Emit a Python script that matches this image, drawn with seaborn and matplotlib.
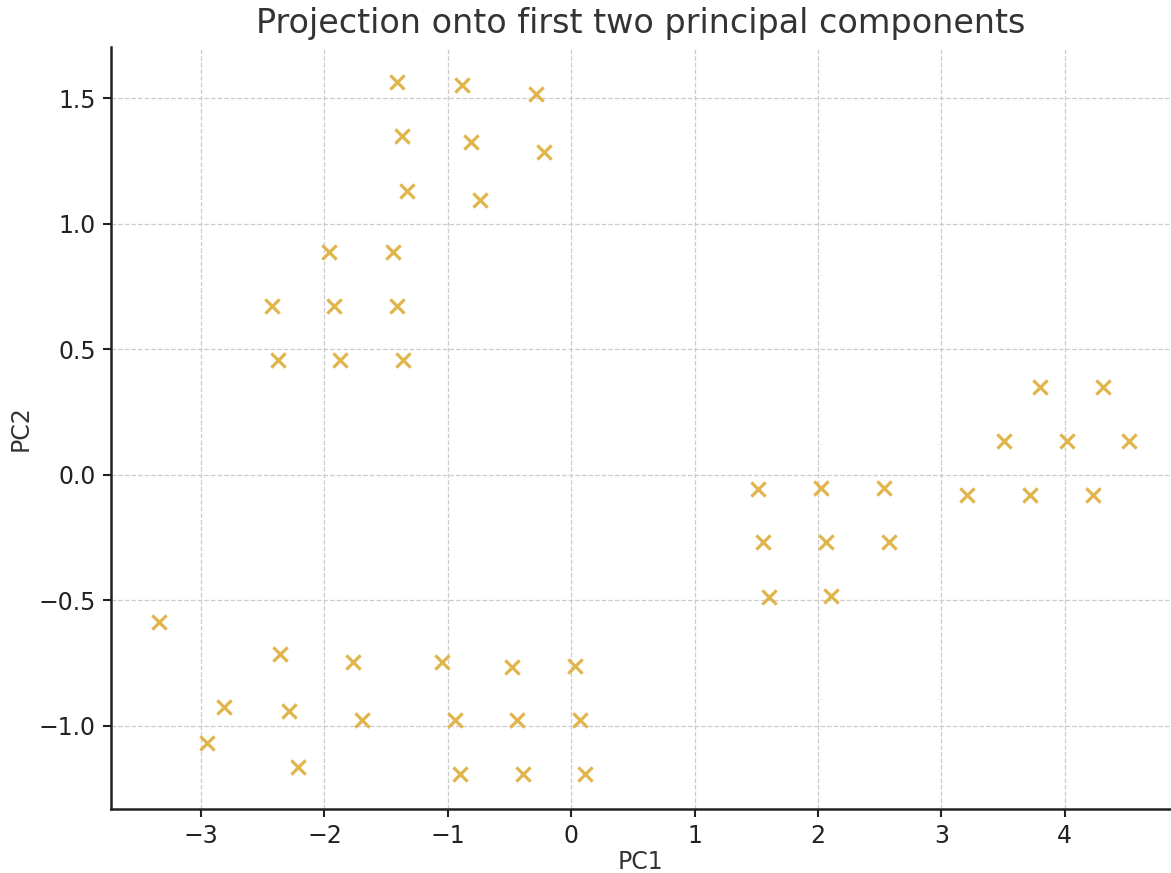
import matplotlib
matplotlib.use("Agg")
import matplotlib.pyplot as plt
import pandas as pd
import seaborn as sns

# values
pc1 = [
    -1.415, -0.886, -0.288, -1.374, -0.810, -0.221, -1.331, -0.740,
    -1.961, -1.447, -2.428, -1.921, -1.410, -2.379, -1.874, -1.366,
    -3.339, -2.358, -1.767, -1.050, -0.481, 0.028,
    -2.814, -2.290, -1.696, -0.945, -0.438, 0.071,
    -2.955, -2.215, -0.904, -0.394, 0.113,
    1.513, 2.021, 2.532, 1.556, 2.064, 2.577, 1.605, 2.107,
    3.804, 4.311, 3.506, 4.015, 4.522, 3.212, 3.723, 4.230,
]
pc2 = [
    1.563, 1.551, 1.517, 1.348, 1.324, 1.286, 1.131, 1.096,
    0.887, 0.887, 0.671, 0.671, 0.673, 0.455, 0.455, 0.455,
    -0.588, -0.713, -0.748, -0.748, -0.766, -0.764,
    -0.927, -0.940, -0.976, -0.979, -0.979, -0.979,
    -1.069, -1.166, -1.194, -1.194, -1.191,
    -0.057, -0.055, -0.055, -0.270, -0.270, -0.270, -0.487, -0.485,
    0.349, 0.349, 0.135, 0.135, 0.135, -0.081, -0.081, -0.081,
]

df = pd.DataFrame({"PC1": pc1, "PC2": pc2})

sns.set_style("whitegrid", {
    "grid.linestyle": "--",
    "grid.color": "#cccccc",
    "axes.edgecolor": "#222222",
    "xtick.bottom": True,
    "ytick.left": True,
})
plt.rcParams["font.family"] = ["DejaVu Sans"]

fig = plt.figure(figsize=(11.71, 8.73), dpi=100)
ax = fig.add_axes([0.0948, 0.0733, 0.905, 0.873])

sns.scatterplot(data=df, x="PC1", y="PC2", marker="x", color="#e0b54c",
                s=105, linewidth=2.3, ax=ax)

ax.set_xlim(-3.73, 4.86)
ax.set_ylim(-1.332, 1.704)
ax.set_yticks([-1.0, -0.5, 0.0, 0.5, 1.0, 1.5])
ax.grid(True, linewidth=0.9)
sns.despine(ax=ax)
for side in ["left", "bottom"]:
    ax.spines[side].set_linewidth(1.8)
ax.tick_params(axis="both", labelsize=17, length=6, width=1.5, colors="#222222", pad=5)

ax.set_title("Projection onto first two principal components", fontsize=24, color="#333333", pad=10)
ax.set_xlabel("PC1", fontsize=17, color="#333333", labelpad=1)
ax.set_ylabel("PC2", fontsize=17, color="#333333")

fig.savefig("out.png", dpi=100)
